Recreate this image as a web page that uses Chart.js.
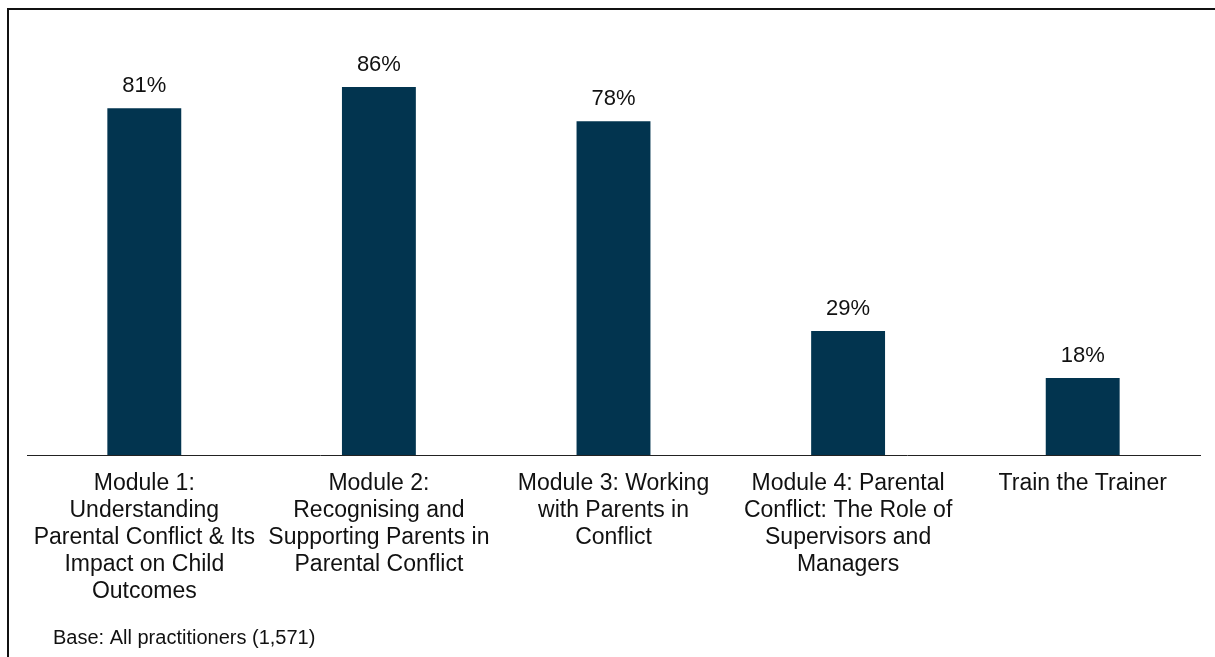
<!DOCTYPE html>
<html>
<head>
<meta charset="utf-8">
<title>Training modules completed</title>
<script src="https://cdn.jsdelivr.net/npm/chart.js@4/dist/chart.umd.min.js"></script>
<style>
  html, body { margin: 0; padding: 0; background: #fff; }
  #wrap { position: relative; width: 1215px; height: 657px; overflow: hidden; }
  #frame {
    position: absolute; left: 7px; top: 8px; width: 1230px; height: 700px;
    border-left: 2px solid #111; border-top: 2px solid #111; box-sizing: border-box;
  }
  canvas { position: absolute; left: 0; top: 0; }
</style>
</head>
<body>
<div id="wrap">
  <div id="frame"></div>
  <canvas id="chart" width="1215" height="657"></canvas>
</div>
<script>
// Module names (multi-line category labels)
const categories = [
  ["Module 1:", "Understanding", "Parental Conflict & Its", "Impact on Child", "Outcomes"],
  ["Module 2:", "Recognising and", "Supporting Parents in", "Parental Conflict"],
  ["Module 3: Working", "with Parents in", "Conflict"],
  ["Module 4: Parental", "Conflict: The Role of", "Supervisors and", "Managers"],
  "Train the Trainer"
];

// Share of practitioners (%)
const percentages = [81, 86, 78, 29, 18];

const baseNote = "Base: All practitioners (1,571)";

const FONT = '"Liberation Sans", Arial, Helvetica, sans-serif';
const BAR_COLOR = '#02344F';
const TEXT_COLOR = '#111111';

// Percentage labels above each bar
const valueLabels = {
  id: 'valueLabels',
  afterDatasetsDraw(chart) {
    const { ctx } = chart;
    const meta = chart.getDatasetMeta(0);
    ctx.save();
    ctx.font = '22px ' + FONT;
    ctx.fillStyle = TEXT_COLOR;
    ctx.textAlign = 'center';
    ctx.textBaseline = 'middle';
    meta.data.forEach((bar, i) => {
      ctx.fillText(percentages[i] + '%', bar.x, bar.y - 22);
    });
    ctx.restore();
  }
};

// Base note in the lower-left corner
const footNote = {
  id: 'footNote',
  afterDraw(chart) {
    const { ctx } = chart;
    ctx.save();
    ctx.font = '20px ' + FONT;
    ctx.fillStyle = TEXT_COLOR;
    ctx.textAlign = 'left';
    ctx.textBaseline = 'middle';
    ctx.fillText(baseNote, 53, 638);
    ctx.restore();
  }
};

new Chart(document.getElementById('chart'), {
  type: 'bar',
  data: {
    labels: categories,
    datasets: [{
      data: percentages,
      backgroundColor: BAR_COLOR,
      borderWidth: 0,
      barPercentage: 0.315,
      categoryPercentage: 1.0
    }]
  },
  options: {
    responsive: false,
    animation: false,
    devicePixelRatio: 1,
    layout: { padding: { left: 27, right: 15, top: 27, bottom: 0 } },
    plugins: {
      legend: { display: false },
      tooltip: { enabled: false },
      title: { display: false }
    },
    scales: {
      x: {
        grid: { display: false, drawTicks: false },
        border: { display: true, color: '#222', width: 1 },
        ticks: {
          color: TEXT_COLOR,
          padding: 15,
          maxRotation: 0,
          autoSkip: false,
          font: { family: FONT, size: 23, lineHeight: 27 / 23 }
        },
        afterFit(scale) { scale.height = 202; }
      },
      y: {
        display: false,
        min: 0,
        max: 100
      }
    }
  },
  plugins: [valueLabels, footNote]
});
</script>
</body>
</html>
